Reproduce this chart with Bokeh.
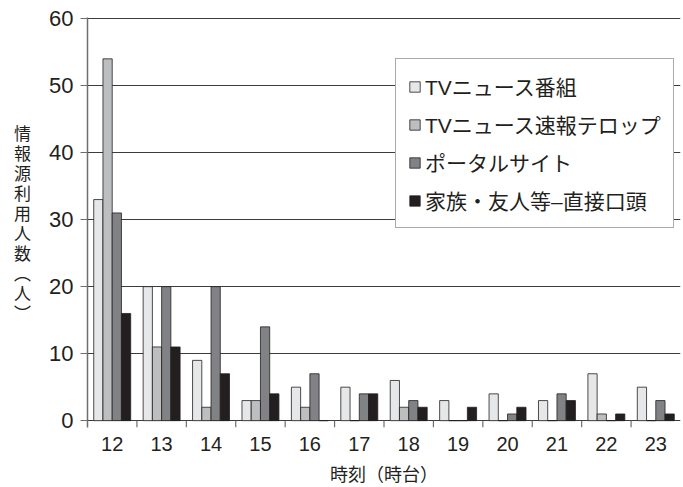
from bokeh.plotting import figure
from bokeh.models import FixedTicker, Range1d, Legend, LegendItem
from bokeh.embed import file_html
from bokeh.resources import INLINE
import numpy as np

# Hour bands (時台) and number of people using each information source
hours = ["12", "13", "14", "15", "16", "17", "18", "19", "20", "21", "22", "23"]
tv_news = [33, 20, 9, 3, 5, 5, 6, 3, 4, 3, 7, 5]
tv_flash = [54, 11, 2, 3, 2, 0, 2, 0, 0, 0, 1, 0]
portal = [31, 20, 20, 14, 7, 4, 3, 0, 1, 4, 0, 3]
family = [16, 11, 7, 4, 0, 4, 2, 2, 2, 3, 1, 1]

series_names = ["TVニュース番組", "TVニュース速報テロップ", "ポータルサイト", "家族・友人等–直接口頭"]
series_values = [tv_news, tv_flash, portal, family]
colors = ["#e6e7e8", "#bcbec0", "#808285", "#231f20"]
y_ticks = [0, 10, 20, 30, 40, 50, 60]

LATIN = "Liberation Sans, Noto Sans CJK JP"
CJK = "Noto Sans CJK JP"
INK = "#231f20"

p = figure(
    frame_width=593, frame_height=410,
    min_border_left=87, min_border_right=3, min_border_top=17, min_border_bottom=60,
    x_range=Range1d(0, 12), y_range=Range1d(-1.02, 60.17),
    output_backend="svg", toolbar_location=None,
)
p.outline_line_color = None
p.background_fill_color = "white"
p.border_fill_color = "white"

centers = np.arange(len(hours)) + 0.5
bar_w = 0.187
legend_items = []
for i, (name, vals, col) in enumerate(zip(series_names, series_values, colors)):
    r = p.vbar(x=centers + (i - 1.5) * bar_w, top=vals, bottom=0, width=bar_w,
               fill_color=col, line_color=INK, line_width=0.8)
    legend_items.append(LegendItem(label=name, renderers=[r]))

# tick marks between hour groups, hanging below the baseline
bounds = np.arange(1, len(hours))
p.segment(x0=bounds, y0=0, x1=bounds, y1=-1.02, line_color="#6d6e71", line_width=1.2)

# y axis, with a vertically stacked title
p.yaxis.ticker = FixedTicker(ticks=y_ticks)
p.yaxis.axis_line_color = "#6d6e71"
p.yaxis.axis_line_width = 1.5
p.yaxis.major_tick_line_color = "#6d6e71"
p.yaxis.major_tick_out = 7
p.yaxis.major_tick_in = 0
p.yaxis.minor_tick_line_color = None
p.yaxis.major_label_text_font = LATIN
p.yaxis.major_label_text_font_size = "22px"
p.yaxis.major_label_text_color = INK
p.yaxis.major_label_standoff = 7
p.yaxis.axis_label = "情\n報\n源\n利\n用\n人\n数\n︵\n人\n︶"
p.yaxis.axis_label_orientation = "horizontal"
p.yaxis.axis_label_text_font = CJK
p.yaxis.axis_label_text_font_size = "17px"
p.yaxis.axis_label_text_font_style = "normal"
p.yaxis.axis_label_text_color = INK
p.yaxis.axis_label_text_line_height = 0.8
p.yaxis.axis_label_standoff = 15

# x axis: labels at group centres
p.xaxis.ticker = FixedTicker(ticks=list(centers))
p.xaxis.major_label_overrides = {float(c): h for c, h in zip(centers, hours)}
p.xaxis.axis_line_color = None
p.xaxis.major_tick_line_color = None
p.xaxis.minor_tick_line_color = None
p.xaxis.major_label_text_font = LATIN
p.xaxis.major_label_text_font_size = "20px"
p.xaxis.major_label_text_color = INK
p.xaxis.major_label_standoff = 3
p.xaxis.axis_label = "時刻（時台）"
p.xaxis.axis_label_text_font = CJK
p.xaxis.axis_label_text_font_size = "18px"
p.xaxis.axis_label_text_font_style = "normal"
p.xaxis.axis_label_text_color = INK
p.xaxis.axis_label_standoff = 6

p.xgrid.grid_line_color = None
p.ygrid.ticker = FixedTicker(ticks=y_ticks)
p.ygrid.grid_line_color = "#3c3c3c"
p.ygrid.grid_line_width = 1.1

legend = Legend(items=legend_items, location=(308, 199))
legend.label_text_font = LATIN
legend.label_text_font_size = "21px"
legend.label_text_color = INK
legend.glyph_width = 13
legend.glyph_height = 13
legend.label_height = 20
legend.spacing = 8
legend.padding = 12
legend.margin = 0
legend.label_standoff = 4
legend.border_line_color = "#555555"
legend.border_line_width = 1
legend.background_fill_color = "white"
legend.background_fill_alpha = 1.0
p.add_layout(legend, "center")

open("out.html", "w").write(file_html(p, INLINE))
